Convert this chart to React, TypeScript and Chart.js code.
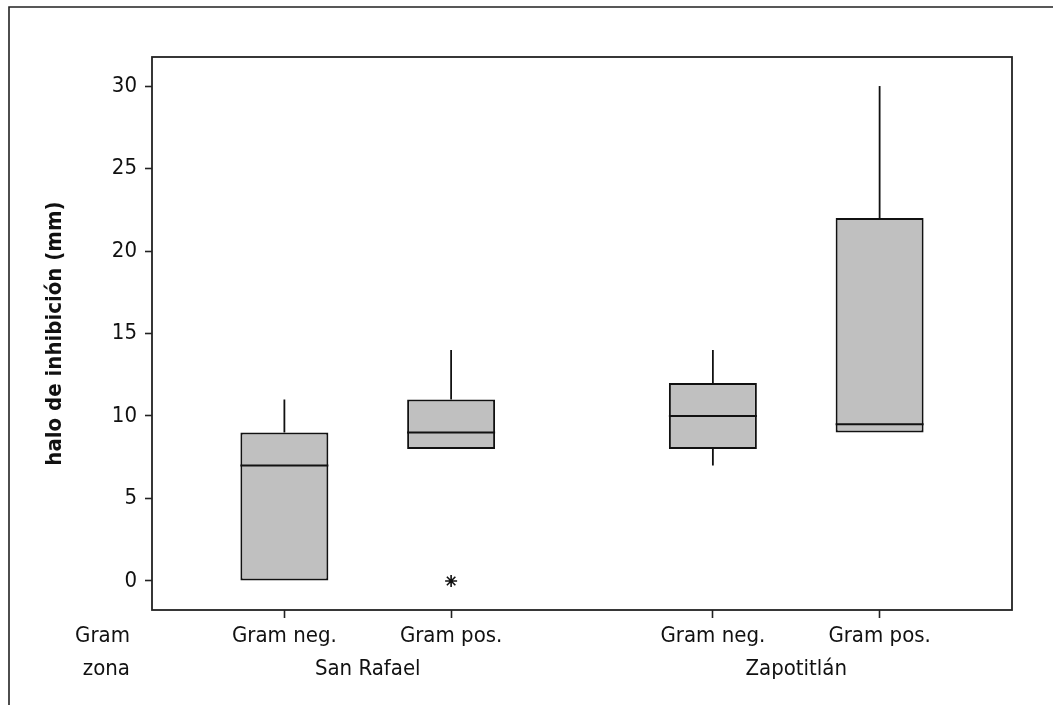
import React, { useEffect, useRef } from 'react';
import { Chart, registerables } from 'chart.js';

Chart.register(...registerables);

// ---- data ----
const zones = ['San Rafael', 'Zapotitlán'];
const gramTypes = ['Gram neg.', 'Gram pos.'];
const boxZone = [0, 0, 1, 1];
const boxGram = [0, 1, 0, 1];
const whiskerLow = [0, 8, 7, 9];
const q1 = [0, 8, 8, 9];
const median = [7, 9, 10, 9.5];
const q3 = [9, 11, 12, 22];
const whiskerHigh = [11, 14, 14, 30];
const outlierBox = [1];
const outlierValue = [0];
const yTicks = [0, 5, 10, 15, 20, 25, 30];
const rowHeaders = ['Gram', 'zona'];
const yTitle = 'halo de inhibición (mm)';

// ---- layout / style constants ----
const GROUP_GAP = 0.57;
const X_PAD = 0.794;
const BOX_WIDTH = 0.5276;
const Y_MIN = -1.76;
const Y_MAX = 31.76;
const FONT = '"DejaVu Sans Condensed", "DejaVu Sans", sans-serif';
const TEXT = '#111';
const LINE = '#111';

const xPos = boxZone.map((z, i) => 1 + boxGram[i] + z * (gramTypes.length + GROUP_GAP));

const framePlugin = {
  id: 'frame',
  beforeDraw(chart: any) {
    const { ctx, width, height } = chart;
    ctx.save();
    ctx.fillStyle = '#fff';
    ctx.fillRect(0, 0, width, height);
    ctx.strokeStyle = '#222';
    ctx.lineWidth = 1.6;
    ctx.beginPath();
    ctx.moveTo(9, height + 5);
    ctx.lineTo(9, 7);
    ctx.lineTo(width + 5, 7);
    ctx.stroke();
    ctx.restore();
  },
  afterDraw(chart: any) {
    const { ctx, chartArea } = chart;
    const { left, top, right, bottom } = chartArea;
    ctx.save();
    ctx.strokeStyle = '#222';
    ctx.lineWidth = 1.8;
    ctx.strokeRect(left, top, right - left, bottom - top);

    const xs = chart.scales.x;
    ctx.font = `22px ${FONT}`;
    ctx.fillStyle = TEXT;
    ctx.textBaseline = 'alphabetic';
    ctx.textAlign = 'center';
    const row1 = bottom + 32;
    const row2 = bottom + 65;
    xPos.forEach((v, i) => {
      ctx.fillText(gramTypes[boxGram[i]], xs.getPixelForValue(v), row1);
    });
    zones.forEach((z, zi) => {
      const members = xPos.filter((_, i) => boxZone[i] === zi);
      const c = (xs.getPixelForValue(Math.min(...members)) + xs.getPixelForValue(Math.max(...members))) / 2;
      ctx.fillText(z, c, row2);
    });
    ctx.textAlign = 'right';
    ctx.fillText(rowHeaders[0], 130, row1);
    ctx.fillText(rowHeaders[1], 130, row2);
    ctx.restore();
  },
};

export default function App() {
  const canvasRef = useRef<HTMLCanvasElement | null>(null);

  useEffect(() => {
    if (!canvasRef.current) return;

    const lineStyle = {
      type: 'line' as const,
      borderColor: LINE,
      borderWidth: 1.8,
      pointRadius: 0,
      fill: false,
      tension: 0,
    };

    const medianSets = xPos.map((x, i) => ({
      ...lineStyle,
      order: 0,
      data: [
        { x: x - BOX_WIDTH / 2, y: median[i] },
        { x: x + BOX_WIDTH / 2, y: median[i] },
      ],
    }));

    const upperWhiskers = xPos
      .map((x, i) => ({ x, i }))
      .filter(({ i }) => whiskerHigh[i] > q3[i])
      .map(({ x, i }) => ({
        ...lineStyle,
        order: 1,
        data: [
          { x, y: q3[i] },
          { x, y: whiskerHigh[i] },
        ],
      }));

    const lowerWhiskers = xPos
      .map((x, i) => ({ x, i }))
      .filter(({ i }) => whiskerLow[i] < q1[i])
      .map(({ x, i }) => ({
        ...lineStyle,
        order: 1,
        data: [
          { x, y: q1[i] },
          { x, y: whiskerLow[i] },
        ],
      }));

    const chart = new Chart(canvasRef.current, {
      type: 'bar',
      data: {
        datasets: [
          {
            type: 'bar',
            order: 3,
            data: xPos.map((x, i) => ({ x, y: [q1[i], q3[i]] })) as any,
            backgroundColor: '#c0c0c0',
            borderColor: LINE,
            borderWidth: 2,
            borderSkipped: false,
            barPercentage: BOX_WIDTH,
            categoryPercentage: 1,
          } as any,
          ...medianSets,
          ...upperWhiskers,
          ...lowerWhiskers,
          {
            type: 'scatter',
            order: 0,
            data: outlierBox.map((b, k) => ({ x: xPos[b], y: outlierValue[k] })),
            pointStyle: 'star',
            pointRadius: 6,
            borderColor: LINE,
            backgroundColor: LINE,
            borderWidth: 1.6,
          } as any,
        ],
      },
      options: {
        animation: false,
        responsive: false,
        events: [],
        layout: { padding: { left: 0, top: 57, right: 41, bottom: 0 } },
        plugins: { legend: { display: false }, tooltip: { enabled: false } },
        scales: {
          x: {
            type: 'linear',
            min: xPos[0] - X_PAD,
            max: xPos[xPos.length - 1] + X_PAD,
            offset: false,
            afterBuildTicks: (s: any) => {
              s.ticks = xPos.map((v) => ({ value: v }));
            },
            afterFit: (s: any) => {
              s.height = 95;
            },
            ticks: { display: false },
            grid: {
              display: true,
              offset: false,
              drawOnChartArea: false,
              drawTicks: true,
              tickLength: 8,
              tickColor: '#222',
              tickWidth: 1.6,
            },
            border: { display: false },
          },
          y: {
            type: 'linear',
            min: Y_MIN,
            max: Y_MAX,
            afterBuildTicks: (s: any) => {
              s.ticks = yTicks.map((v) => ({ value: v }));
            },
            afterFit: (s: any) => {
              s.width = 152;
            },
            ticks: { font: { family: FONT, size: 22 }, color: TEXT, padding: 8 },
            grid: {
              display: true,
              drawOnChartArea: false,
              drawTicks: true,
              tickLength: 7,
              tickColor: '#222',
              tickWidth: 1.6,
            },
            border: { display: false },
            title: {
              display: true,
              text: yTitle,
              color: TEXT,
              font: { family: FONT, size: 22, weight: 'bold' },
              padding: { top: 42, bottom: 0 },
            },
          },
        },
      } as any,
      plugins: [framePlugin],
    });

    return () => chart.destroy();
  }, []);

  return (
    <div style={{ position: 'absolute', left: 0, top: 0, width: 1053, height: 705, background: '#fff' }}>
      <canvas ref={canvasRef} width={1053} height={705} style={{ display: 'block' }} />
    </div>
  );
}
